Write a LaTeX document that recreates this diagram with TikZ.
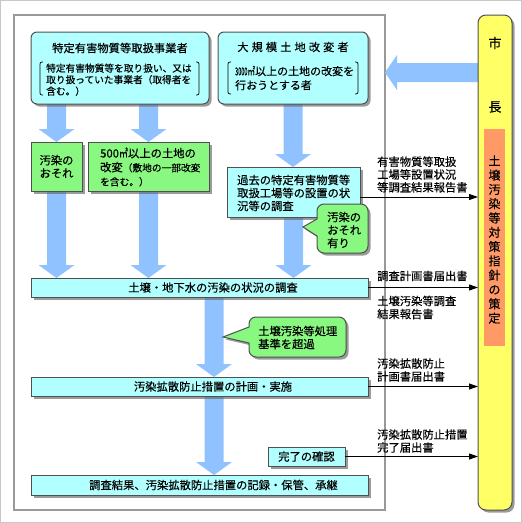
\documentclass[tikz,border=0pt]{standalone}
\usepackage{fontspec}
\setmainfont{Noto Sans CJK JP}[FakeBold=0.35]
\usetikzlibrary{calc,shadows,backgrounds,arrows.meta}
\definecolor{boxcyan}{RGB}{178,255,255}
\definecolor{boxgreen}{RGB}{136,248,128}
\definecolor{arrblue}{RGB}{143,194,255}
\definecolor{mayoryellow}{RGB}{255,255,102}
\definecolor{mayororange}{RGB}{255,153,102}
\definecolor{edgegray}{RGB}{80,80,80}
\newcommand\fsz[2]{\fontsize{#1pt}{#2pt}\selectfont}
\newcommand\lsp{\hspace{3pt}}
\begin{document}
\begin{tikzpicture}[x=1pt,y=-1pt,
 shadowed/.style={drop shadow={shadow xshift=2.5pt,shadow yshift=-2.5pt,fill=black!60,opacity=0.65}},
 box/.style={draw=edgegray,line width=1pt,shadowed,inner sep=0pt,outer sep=0pt,anchor=north west},
 cyanbox/.style={box,fill=boxcyan},
 roundcyan/.style={cyanbox,rounded corners=6pt},
 greenbox/.style={box,fill=boxgreen},
 calloutshape/.style={draw=edgegray,line width=1pt,fill=boxgreen,shadowed},
 txt/.style={inner sep=0pt,font=\fsz{11.3}{13}},
 ltxt/.style={txt,anchor=west,align=left},
 bracket/.style={draw=black,line width=0.7pt,rounded corners=2pt},
 blackarr/.style={draw=black,line width=0.9pt,-{Triangle[length=9pt,width=6pt]}},
 downfat/.style={fill=arrblue,to path={let \p1=(\tikztostart), \p2=(\tikztotarget) in
   (\x1-9.5pt,\y1) -- (\x1+9.5pt,\y1) -- (\x1+9.5pt,\y2+13pt) -- (\x1+18pt,\y2+13pt)
   -- (\x1,\y2) -- (\x1-18pt,\y2+13pt) -- (\x1-9.5pt,\y2+13pt) -- cycle}},
 leftfat/.style={fill=arrblue,to path={let \p1=(\tikztostart), \p2=(\tikztotarget) in
   (\x1,\y1+9.5pt) -- (\x2+12pt,\y1+9.5pt) -- (\x2+12pt,\y1+17.5pt) -- (\x2,\y1)
   -- (\x2+12pt,\y1-17.5pt) -- (\x2+12pt,\y1-9.5pt) -- (\x1,\y1-9.5pt) -- cycle}}
]
\useasboundingbox (0,0) rectangle (522,523);
\begin{scope}[on background layer]
  \draw[black!22,line width=1pt] (0.5,0.5) rectangle (521.5,522.5);
  \node[draw=black!40,line width=1.2pt,anchor=north west,inner sep=0pt,outer sep=0pt,
        minimum width=371pt,minimum height=495pt] (area) at (14,15) {};
\end{scope}

% top boxes
\node[roundcyan,minimum width=178pt,minimum height=72pt] (b1) at (31,32) {};
\node[txt] (t1) at (120,48) {特定有害物質等取扱事業者};
\draw[bracket] (43,62) -- (40,62) -- (40,95) -- (43,95);
\draw[bracket] (196,62) -- (199,62) -- (199,95) -- (196,95);
\node[ltxt,font=\fsz{9.7}{11.5}] (t1s) at (46,79.7) {特定有害物質等を取り扱い、又は\\取り扱っていた事業者（取得者を\\含む。）};

\node[roundcyan,minimum width=150pt,minimum height=72pt] (b2) at (218,32) {};
\node[txt] (t2) at (293,47) {大\lsp 規\lsp 模\lsp 土\lsp 地\lsp 改\lsp 変\lsp 者};
\draw[bracket] (231,62) -- (228,62) -- (228,94) -- (231,94);
\draw[bracket] (355,62) -- (358,62) -- (358,94) -- (355,94);
\node[ltxt,font=\fsz{11}{14}] (t2s) at (235,78) {\scalebox{0.5}[1]{3000}\scalebox{0.7}[1]{㎡}以上の土地の改変を\\行おうとする者};

% green boxes
\node[greenbox,align=center,font=\fsz{11.3}{13},minimum width=51pt,minimum height=49pt] (g1) at (31,142) {汚染の\\おそれ};
\node[greenbox,minimum width=121pt,minimum height=49pt] (g2) at (88,142) {};
\node[ltxt,font=\fsz{11.3}{14}] (g2t) at (100,167) {500\scalebox{0.8}[1]{㎡}以上の土地の\\改変{\fsz{9.7}{14}（敷地の一部改変}\\{\fsz{9.7}{14}を含む。）}};

% past survey
\node[cyanbox,minimum width=133pt,minimum height=50pt] (past) at (227,167) {};
\node[ltxt] (pastt) at (237,193) {過去の特定有害物質等\\取扱工場等の設置の状\\況等の調査};

% callout 1
\draw[calloutshape] (340,204) [rounded corners=7pt] -- (368,204) -- (368,253) -- (317,253) [sharp corners] -- (317,236) -- (303,227) -- (317,219) [rounded corners=7pt] -- (317,204) -- cycle;
\node[ltxt] (c1t) at (327,230) {汚染の\\おそれ\\有り};

% soil survey
\node[cyanbox,minimum width=337pt,minimum height=19pt] (soil) at (31,278) {};
\node[txt] (soilt) at (213,287.5) {土壌・地下水の汚染の状況の調査};

% callout 2
\draw[calloutshape] (300,317) [rounded corners=7pt] -- (346,317) -- (346,357) -- (249,357) [sharp corners] -- (249,343) -- (223,337) -- (249,327) [rounded corners=7pt] -- (249,317) -- cycle;
\node[ltxt] (c2t) at (258,337.5) {土壌汚染等処理\\基準を超過};

% plan
\node[cyanbox,minimum width=337pt,minimum height=19pt] (plan) at (31,377) {};
\node[txt] (plant) at (213,386.5) {汚染拡散防止措置の計画・実施};

% done
\node[cyanbox,font=\fsz{11.3}{13},minimum width=77pt,minimum height=19pt] (done) at (268,447) {完了の確認};

% final
\node[cyanbox,minimum width=337pt,minimum height=20pt] (final) at (31,475) {};
\node[txt] (finalt) at (213.5,485) {調査結果、汚染拡散防止措置の記録・保管、承継};

% mayor
\node[box,fill=mayoryellow,rounded corners=8pt,minimum width=34pt,minimum height=495pt] (mayor) at (478,15) {};
\node[txt,font=\fsz{13}{13}] (m1) at (495,43) {市};
\node[txt,font=\fsz{13}{13}] (m2) at (495,107) {長};
\node[anchor=north west,fill=mayororange,inner sep=0pt,minimum width=21pt,minimum height=217pt] (policy) at (484,129) {};
\node[txt,align=center,font=\fsz{12}{14.3}] (policyt) at (494.5,239.5) {土\\壌\\汚\\染\\等\\対\\策\\指\\針\\の\\策\\定};

% thin arrows to mayor
\draw[blackarr] ([yshift=-5pt]past.east) -- ([yshift=-5pt]past.east -| mayor.west);
\node[ltxt,font=\fsz{11.3}{12.8}] (l1) at (377,174.5) {有害物質等取扱\\工場等設置状況\\等調査結果報告書};
\draw[blackarr] (soil.east) -- (soil.east -| mayor.west);
\node[ltxt] (l2) at (377,276) {調査計画書届出書};
\node[ltxt] (l3) at (377,307.5) {土壌汚染等調査\\結果報告書};
\draw[blackarr] (plan.east) -- (plan.east -| mayor.west);
\node[ltxt] (l4) at (377,370) {汚染拡散防止\\計画書届出書};
\draw[blackarr] (done.east) -- (done.east -| mayor.west);
\node[ltxt] (l5) at (377,441) {汚染拡散防止措置\\完了届出書};

% fat arrows
\coordinate (arrowrow) at (0,72.5);
\coordinate (col) at (214,0);
\begin{scope}[on background layer]
  \path[leftfat] (mayor.west |- arrowrow) to (area.east |- arrowrow);
  \path[downfat] (b1.south -| g1.north) to (g1.north);
  \path[downfat] (b1.south -| g2.north) to (g2.north);
  \path[downfat] (g1.south) to (g1.south |- soil.north);
  \path[downfat] (g2.south) to (g2.south |- soil.north);
  \path[downfat] (b2.south) to (past.north);
  \path[downfat] (past.south) to (past.south |- soil.north);
  \path[downfat] (soil.south -| col) to (plan.north -| col);
  \path[downfat] (plan.south -| col) to (final.north -| col);
\end{scope}
\end{tikzpicture}
\end{document}
